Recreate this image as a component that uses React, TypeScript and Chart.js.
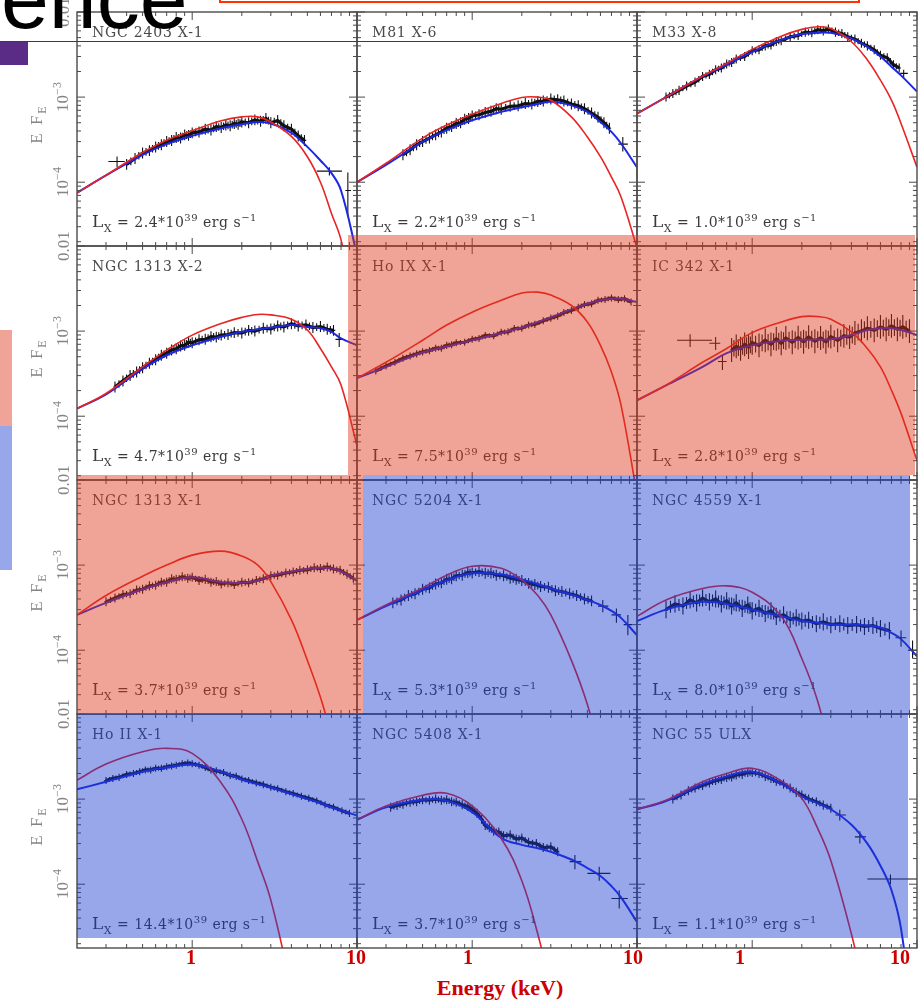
import React, { useEffect, useRef } from "react";
import { Chart, registerables } from "chart.js";

Chart.register(...registerables);

// ---------- axes ----------
const xMin = 0.2;
const xMax = 10;
const yMin = 1.78e-5;
const yMax = 0.01;
const xMajorTicks = [1, 10];
const xMinorTicks = [0.3, 0.4, 0.5, 0.6, 0.7, 0.8, 0.9, 2, 3, 4, 5, 6, 7, 8, 9];
const yMajorTicks = [1e-2, 1e-3, 1e-4];
const yMinorTicks = [
  2e-3, 3e-3, 4e-3, 5e-3, 6e-3, 7e-3, 8e-3, 9e-3,
  2e-4, 3e-4, 4e-4, 5e-4, 6e-4, 7e-4, 8e-4, 9e-4,
  2e-5, 3e-5, 4e-5, 5e-5, 6e-5, 7e-5, 8e-5, 9e-5,
];
const yTickValues = [1e-2, 1e-3, 1e-4];
const yTickLabels: [string, string][] = [["0.01", ""], ["10", "−3"], ["10", "−4"]];
const xTickLabels = ["1", "10", "1", "10", "1", "10"];

// ---------- model energy grid (keV) ----------
const modelE = [0.2, 0.3, 0.5, 0.7, 1, 1.5, 2, 2.5, 3, 4, 5, 6, 7, 8, 10];

// ---------- panel meta ----------
const panelNames = [
  "NGC 2403 X-1", "M81 X-6", "M33 X-8",
  "NGC 1313 X-2", "Ho IX X-1", "IC 342 X-1",
  "NGC 1313 X-1", "NGC 5204 X-1", "NGC 4559 X-1",
  "Ho II X-1", "NGC 5408 X-1", "NGC 55 ULX",
];
const panelLx = ["2.4", "2.2", "1.0", "4.7", "7.5", "2.8", "3.7", "5.3", "8.0", "14.4", "3.7", "1.1"];
const panelErr = [0.16, 0.16, 0.13, 0.16, 0.1, 0.38, 0.13, 0.16, 0.26, 0.1, 0.13, 0.13];

// ---------- model curves (E F_E) ----------
const red1 = [7.5e-5, 1.21e-4, 2.23e-4, 3.12e-4, 4.02e-4, 5.26e-4, 5.86e-4, 5.86e-4, 5.1e-4, 3.45e-4, 1.99e-4, 1.0e-4, 4.3e-5, 2.1e-5, 3e-6];
const blue1 = [7.5e-5, 1.2e-4, 2.1e-4, 2.8e-4, 3.5e-4, 4.3e-4, 4.8e-4, 5.1e-4, 4.9e-4, 3.8e-4, 2.6e-4, 1.8e-4, 1.28e-4, 8.0e-5, 1.4e-5];
const red2 = [1.0e-4, 1.67e-4, 3.3e-4, 4.69e-4, 6.3e-4, 8.4e-4, 9.9e-4, 1.0e-3, 9.2e-4, 5.86e-4, 3.4e-4, 2.0e-4, 1.15e-4, 6.7e-5, 1.7e-5];
const blue2 = [1.0e-4, 1.6e-4, 2.98e-4, 4.1e-4, 5.35e-4, 6.7e-4, 7.6e-4, 8.3e-4, 8.8e-4, 8.0e-4, 6.7e-4, 5.1e-4, 3.9e-4, 2.85e-4, 1.5e-4];
const red3 = [6.4e-4, 1.0e-3, 1.77e-3, 2.49e-3, 3.64e-3, 5.2e-3, 6.25e-3, 6.7e-3, 6.4e-3, 4.47e-3, 2.73e-3, 1.58e-3, 9.2e-4, 4.9e-4, 1.5e-4];
const blue3 = [6.4e-4, 1.0e-3, 1.75e-3, 2.4e-3, 3.4e-3, 4.7e-3, 5.5e-3, 5.7e-3, 5.7e-3, 4.9e-3, 3.9e-3, 3.0e-3, 2.28e-3, 1.8e-3, 1.16e-3];
const red4 = [1.23e-4, 1.85e-4, 3.8e-4, 5.97e-4, 8.97e-4, 1.23e-3, 1.45e-3, 1.57e-3, 1.55e-3, 1.38e-3, 1.03e-3, 6.25e-4, 3.8e-4, 2.32e-4, 4.5e-5];
const blue4 = [1.23e-4, 1.8e-4, 3.6e-4, 5.2e-4, 6.8e-4, 8.6e-4, 9.8e-4, 1.05e-3, 1.1e-3, 1.18e-3, 1.12e-3, 1.08e-3, 9.8e-4, 8.2e-4, 6.8e-4];
const red5 = [2.8e-4, 4.3e-4, 7.8e-4, 1.18e-3, 1.67e-3, 2.3e-3, 2.8e-3, 2.87e-3, 2.65e-3, 2.0e-3, 1.28e-3, 6.8e-4, 3.3e-4, 1.35e-4, 1.2e-5];
const blue5 = [2.8e-4, 3.8e-4, 5.6e-4, 6.6e-4, 7.8e-4, 9.5e-4, 1.1e-3, 1.28e-3, 1.45e-3, 1.8e-3, 2.1e-3, 2.3e-3, 2.4e-3, 2.4e-3, 2.2e-3];
const red6 = [1.54e-4, 2.32e-4, 4.3e-4, 6.25e-4, 9.6e-4, 1.28e-3, 1.48e-3, 1.48e-3, 1.38e-3, 9.8e-4, 6.25e-4, 3.8e-4, 2.02e-4, 1.08e-4, 3.0e-5];
const blue6 = [1.54e-4, 2.3e-4, 3.8e-4, 5.5e-4, 6.8e-4, 7.7e-4, 7.9e-4, 7.95e-4, 8.0e-4, 9.0e-4, 1.03e-3, 1.08e-3, 1.08e-3, 1.03e-3, 9.0e-4];
const red7 = [2.6e-4, 4.4e-4, 7.4e-4, 1.0e-3, 1.31e-3, 1.46e-3, 1.28e-3, 1.0e-3, 6.4e-4, 2.27e-4, 7.6e-5, 2.8e-5, 1.0e-5, null, null];
const blue7 = [2.6e-4, 3.6e-4, 5.2e-4, 6.3e-4, 7.2e-4, 6.3e-4, 6.2e-4, 6.6e-4, 7.5e-4, 8.4e-4, 9.0e-4, 9.3e-4, 9.2e-4, 8.5e-4, 6.5e-4];
const red8 = [2.27e-4, 3.4e-4, 5.4e-4, 7.6e-4, 9.7e-4, 9.2e-4, 6.7e-4, 4.4e-4, 2.6e-4, 7.6e-5, 2.3e-5, 6e-6, null, null, null];
const blue8 = [2.27e-4, 3.3e-4, 5.1e-4, 6.6e-4, 8.0e-4, 7.8e-4, 6.8e-4, 6.0e-4, 5.3e-4, 4.5e-4, 3.9e-4, 3.4e-4, 2.9e-4, 2.4e-4, 1.5e-4];
const red9 = [2.5e-4, 3.9e-4, 5.3e-4, 5.7e-4, 4.8e-4, 2.5e-4, 8e-5, 2.5e-5, 6e-6, null, null, null, null, null, null];
const blue9 = [2.2e-4, 3.0e-4, 3.7e-4, 3.5e-4, 3.0e-4, 2.5e-4, 2.2e-4, 2.1e-4, 2.0e-4, 2.0e-4, 1.95e-4, 1.85e-4, 1.6e-4, 1.35e-4, 8.5e-5];
const red10 = [1.67e-3, 2.58e-3, 3.6e-3, 3.95e-3, 3.45e-3, 1.55e-3, 5.8e-4, 1.83e-4, 6.5e-5, 6e-6, null, null, null, null, null];
const blue10 = [1.3e-3, 1.6e-3, 2.1e-3, 2.35e-3, 2.55e-3, 2.1e-3, 1.7e-3, 1.5e-3, 1.37e-3, 1.15e-3, 1.0e-3, 9.0e-4, 8.0e-4, 7.4e-4, 6.4e-4];
const red11 = [5.7e-4, 8.3e-4, 1.11e-3, 1.17e-3, 8.3e-4, 3.45e-4, 1.1e-4, 2.6e-5, 6e-6, null, null, null, null, null, null];
const blue11 = [5.7e-4, 8.0e-4, 9.8e-4, 9.6e-4, 7.0e-4, 3.5e-4, 2.9e-4, 2.65e-4, 2.4e-4, 1.95e-4, 1.55e-4, 1.25e-4, 9.5e-5, 7.0e-5, 3.6e-5];
const red12 = [7.6e-4, 9.7e-4, 1.6e-3, 2.0e-3, 2.3e-3, 1.64e-3, 1.02e-3, 4.5e-4, 1.9e-4, 2.6e-5, 4e-6, null, null, null, null];
const blue12 = [7.6e-4, 9.5e-4, 1.5e-3, 1.85e-3, 2.1e-3, 1.52e-3, 1.08e-3, 8.9e-4, 7.6e-4, 5.0e-4, 3.0e-4, 1.65e-4, 8.5e-5, 3.0e-5, 1e-6];

// ---------- observed spectra [E, EF_E] ----------
const data1 = [[0.4,1.62e-4],[0.45,1.9e-4],[0.5,2.2e-4],[0.55,2.35e-4],[0.6,2.6e-4],[0.65,2.75e-4],[0.7,3.0e-4],[0.75,3.1e-4],[0.8,3.35e-4],[0.85,3.3e-4],[0.9,3.6e-4],[0.95,3.55e-4],[1.0,3.8e-4],[1.1,3.9e-4],[1.2,4.2e-4],[1.3,4.1e-4],[1.4,4.5e-4],[1.5,4.4e-4],[1.6,4.7e-4],[1.7,4.6e-4],[1.8,4.9e-4],[1.9,4.8e-4],[2.0,5.1e-4],[2.2,5.0e-4],[2.4,5.4e-4],[2.6,5.2e-4],[2.8,5.6e-4],[3.0,5.0e-4],[3.3,5.3e-4],[3.6,4.6e-4],[4.0,4.2e-4],[4.4,3.5e-4],[4.8,3.1e-4]];
const data2 = [[0.38,2.1e-4],[0.42,2.4e-4],[0.46,2.75e-4],[0.5,3.0e-4],[0.55,3.3e-4],[0.6,3.6e-4],[0.65,3.9e-4],[0.7,4.3e-4],[0.75,4.5e-4],[0.8,4.9e-4],[0.85,5.0e-4],[0.9,5.5e-4],[0.95,5.6e-4],[1.0,6.0e-4],[1.1,6.2e-4],[1.2,6.6e-4],[1.3,6.8e-4],[1.4,7.3e-4],[1.5,7.2e-4],[1.7,7.8e-4],[1.9,7.9e-4],[2.1,8.4e-4],[2.3,8.3e-4],[2.5,8.9e-4],[2.7,9.0e-4],[3.0,9.5e-4],[3.3,9.3e-4],[3.6,9.0e-4],[4.0,8.3e-4],[4.4,7.9e-4],[4.8,7.3e-4],[5.3,6.5e-4],[5.8,5.8e-4],[6.3,5.0e-4],[6.8,4.3e-4]];
const data3 = [[0.3,1.0e-3],[0.33,1.1e-3],[0.36,1.2e-3],[0.4,1.35e-3],[0.45,1.5e-3],[0.5,1.75e-3],[0.55,1.85e-3],[0.6,2.1e-3],[0.65,2.2e-3],[0.7,2.45e-3],[0.75,2.55e-3],[0.8,2.8e-3],[0.9,3.0e-3],[1.0,3.5e-3],[1.1,3.6e-3],[1.2,4.0e-3],[1.3,4.1e-3],[1.4,4.5e-3],[1.5,4.6e-3],[1.7,5.1e-3],[1.9,5.3e-3],[2.1,5.8e-3],[2.3,5.7e-3],[2.5,6.2e-3],[2.7,6.0e-3],[2.9,6.3e-3],[3.2,5.8e-3],[3.5,5.6e-3],[3.8,5.1e-3],[4.2,4.8e-3],[4.6,4.3e-3],[5.0,4.0e-3],[5.5,3.6e-3],[6.0,3.1e-3],[6.6,2.9e-3],[7.2,2.4e-3],[7.8,2.2e-3]];
const data4 = [[0.34,2.2e-4],[0.38,2.6e-4],[0.42,3.0e-4],[0.46,3.3e-4],[0.5,3.7e-4],[0.55,4.2e-4],[0.6,4.6e-4],[0.65,5.2e-4],[0.7,5.5e-4],[0.75,6.0e-4],[0.8,6.2e-4],[0.85,6.7e-4],[0.9,6.8e-4],[0.95,7.4e-4],[1.0,7.3e-4],[1.1,7.9e-4],[1.2,8.0e-4],[1.3,8.6e-4],[1.4,8.5e-4],[1.5,9.0e-4],[1.65,9.1e-4],[1.8,9.6e-4],[2.0,9.5e-4],[2.2,1.02e-3],[2.4,1.0e-3],[2.7,1.08e-3],[3.0,1.06e-3],[3.3,1.15e-3],[3.6,1.12e-3],[4.0,1.22e-3],[4.4,1.15e-3],[4.9,1.18e-3],[5.4,1.1e-3],[6.0,1.13e-3],[6.6,1.05e-3],[7.2,1.02e-3]];
const data5 = [[0.26,3.4e-4],[0.3,3.9e-4],[0.34,4.3e-4],[0.38,4.8e-4],[0.42,5.1e-4],[0.46,5.4e-4],[0.5,5.7e-4],[0.55,5.9e-4],[0.6,6.3e-4],[0.65,6.3e-4],[0.7,6.8e-4],[0.75,6.9e-4],[0.8,7.3e-4],[0.9,7.4e-4],[1.0,8.0e-4],[1.1,8.2e-4],[1.2,8.9e-4],[1.35,8.8e-4],[1.5,9.7e-4],[1.65,9.8e-4],[1.8,1.07e-3],[2.0,1.08e-3],[2.2,1.18e-3],[2.4,1.2e-3],[2.7,1.32e-3],[3.0,1.42e-3],[3.3,1.5e-3],[3.6,1.65e-3],[4.0,1.75e-3],[4.4,1.9e-3],[4.8,2.05e-3],[5.3,2.1e-3],[5.8,2.3e-3],[6.4,2.35e-3],[7.0,2.45e-3],[7.7,2.35e-3],[8.4,2.4e-3],[9.2,2.2e-3]];
const data6 = [[0.75,6.0e-4],[0.8,6.6e-4],[0.85,6.2e-4],[0.9,7.0e-4],[0.95,6.5e-4],[1.0,7.3e-4],[1.1,6.8e-4],[1.2,7.8e-4],[1.3,7.0e-4],[1.4,8.1e-4],[1.5,7.2e-4],[1.6,8.3e-4],[1.75,7.4e-4],[1.9,8.4e-4],[2.05,7.5e-4],[2.2,8.5e-4],[2.4,7.6e-4],[2.6,8.3e-4],[2.8,7.5e-4],[3.0,8.6e-4],[3.3,7.8e-4],[3.6,8.8e-4],[3.9,8.5e-4],[4.2,9.5e-4],[4.6,1.0e-3],[5.0,1.08e-3],[5.5,1.02e-3],[6.0,1.12e-3],[6.5,1.05e-3],[7.0,1.15e-3],[7.6,1.05e-3],[8.2,1.12e-3],[9.0,1.0e-3]];
const data7 = [[0.3,3.7e-4],[0.34,4.1e-4],[0.38,4.5e-4],[0.42,4.6e-4],[0.46,5.1e-4],[0.5,5.2e-4],[0.55,5.7e-4],[0.6,5.8e-4],[0.65,6.3e-4],[0.7,6.3e-4],[0.75,6.9e-4],[0.8,6.8e-4],[0.87,7.3e-4],[0.94,7.0e-4],[1.0,7.2e-4],[1.1,6.6e-4],[1.2,6.8e-4],[1.3,6.3e-4],[1.4,6.4e-4],[1.5,6.0e-4],[1.65,6.2e-4],[1.8,5.9e-4],[2.0,6.3e-4],[2.2,6.2e-4],[2.45,6.6e-4],[2.7,6.9e-4],[3.0,7.5e-4],[3.3,7.6e-4],[3.7,8.1e-4],[4.1,8.3e-4],[4.5,8.7e-4],[5.0,8.8e-4],[5.5,9.3e-4],[6.0,9.1e-4],[6.6,9.5e-4],[7.2,9.0e-4],[7.9,8.7e-4],[8.7,7.8e-4],[9.5,7.0e-4]];
const data8 = [[0.33,3.6e-4],[0.37,3.9e-4],[0.41,4.4e-4],[0.45,4.6e-4],[0.5,5.2e-4],[0.55,5.4e-4],[0.6,6.0e-4],[0.65,6.2e-4],[0.7,6.8e-4],[0.75,6.9e-4],[0.8,7.5e-4],[0.87,7.6e-4],[0.94,8.2e-4],[1.0,8.1e-4],[1.1,8.4e-4],[1.2,8.0e-4],[1.3,8.1e-4],[1.4,7.6e-4],[1.55,7.5e-4],[1.7,7.0e-4],[1.85,6.8e-4],[2.0,6.6e-4],[2.2,6.1e-4],[2.4,5.9e-4],[2.6,5.6e-4],[2.9,5.5e-4],[3.2,5.0e-4],[3.5,4.9e-4],[3.9,4.6e-4],[4.3,4.4e-4],[4.8,4.0e-4],[5.3,3.8e-4]];
const data9 = [[0.3,3.0e-4],[0.34,3.5e-4],[0.38,3.3e-4],[0.42,3.9e-4],[0.46,3.6e-4],[0.5,4.1e-4],[0.55,3.7e-4],[0.6,4.0e-4],[0.65,3.5e-4],[0.7,3.8e-4],[0.75,3.3e-4],[0.8,3.6e-4],[0.87,3.1e-4],[0.94,3.4e-4],[1.0,2.9e-4],[1.1,3.1e-4],[1.2,2.7e-4],[1.3,2.9e-4],[1.4,2.5e-4],[1.55,2.6e-4],[1.7,2.3e-4],[1.85,2.4e-4],[2.0,2.2e-4],[2.2,2.25e-4],[2.45,2.05e-4],[2.7,2.15e-4],[3.0,2.0e-4],[3.4,2.05e-4],[3.8,1.95e-4],[4.3,2.0e-4],[4.8,1.9e-4],[5.4,1.95e-4],[6.0,1.8e-4],[6.8,1.7e-4]];
const data10 = [[0.3,1.65e-3],[0.33,1.75e-3],[0.36,1.8e-3],[0.4,1.95e-3],[0.44,2.0e-3],[0.48,2.1e-3],[0.52,2.2e-3],[0.56,2.2e-3],[0.6,2.3e-3],[0.65,2.3e-3],[0.7,2.4e-3],[0.75,2.45e-3],[0.8,2.5e-3],[0.87,2.6e-3],[0.94,2.65e-3],[1.0,2.6e-3],[1.1,2.5e-3],[1.2,2.35e-3],[1.3,2.2e-3],[1.4,2.15e-3],[1.55,2.05e-3],[1.7,1.9e-3],[1.85,1.85e-3],[2.0,1.72e-3],[2.2,1.65e-3],[2.45,1.55e-3],[2.7,1.48e-3],[3.0,1.38e-3],[3.3,1.32e-3],[3.7,1.22e-3],[4.1,1.16e-3],[4.6,1.08e-3],[5.1,1.02e-3],[5.7,9.5e-4],[6.4,8.6e-4],[7.2,8.0e-4],[8.1,7.3e-4],[9.0,6.8e-4]];
const data11 = [[0.32,8.0e-4],[0.35,8.4e-4],[0.38,8.7e-4],[0.42,9.2e-4],[0.46,9.3e-4],[0.5,9.8e-4],[0.55,9.7e-4],[0.6,1.0e-3],[0.65,9.7e-4],[0.7,9.8e-4],[0.75,9.3e-4],[0.8,9.2e-4],[0.87,8.6e-4],[0.94,8.2e-4],[1.0,7.6e-4],[1.07,6.8e-4],[1.14,5.8e-4],[1.2,4.9e-4],[1.27,4.6e-4],[1.35,4.2e-4],[1.45,4.1e-4],[1.55,3.7e-4],[1.7,3.8e-4],[1.85,3.4e-4],[2.0,3.5e-4],[2.2,3.1e-4],[2.45,3.0e-4],[2.7,2.7e-4],[3.0,2.75e-4],[3.3,2.4e-4]];
const data12 = [[0.33,1.0e-3],[0.37,1.12e-3],[0.41,1.25e-3],[0.45,1.35e-3],[0.5,1.45e-3],[0.55,1.55e-3],[0.6,1.65e-3],[0.65,1.7e-3],[0.7,1.8e-3],[0.75,1.82e-3],[0.8,1.92e-3],[0.87,1.95e-3],[0.94,2.05e-3],[1.0,2.05e-3],[1.1,2.0e-3],[1.2,1.85e-3],[1.3,1.75e-3],[1.4,1.62e-3],[1.55,1.5e-3],[1.7,1.35e-3],[1.85,1.2e-3],[2.0,1.12e-3],[2.2,1.0e-3],[2.45,9.3e-4],[2.7,8.5e-4],[3.0,7.8e-4]];

// wide-binned points: [E, F, Elo, Ehi, Flo, Fhi]
const wide1 = [[0.35,1.75e-4,0.31,0.39,1.5e-4,2.0e-4],[6.8,1.35e-4,5.7,8.1,1.2e-4,1.5e-4],[8.8,8e-5,8.5,9.2,4e-5,1.3e-4]];
const wide2 = [[8.2,2.8e-4,7.7,8.8,2.3e-4,3.4e-4]];
const wide3 = [[8.3,1.9e-3,7.9,8.8,1.7e-3,2.1e-3]];
const wide4 = [[7.8,8.0e-4,7.4,8.2,6.5e-4,9.5e-4]];
const wide5: number[][] = [];
const wide6 = [[0.42,7.8e-4,0.35,0.57,6.5e-4,9.2e-4],[0.6,7.2e-4,0.55,0.64,6.0e-4,8.5e-4],[0.66,4.4e-4,0.62,0.7,3.5e-4,5.2e-4]];
const wide7: number[][] = [];
const wide8 = [[6.2,3.3e-4,5.8,6.7,2.8e-4,3.9e-4],[7.5,2.6e-4,7.0,8.0,2.1e-4,3.1e-4],[8.8,2.0e-4,8.3,9.4,1.5e-4,2.6e-4]];
const wide9 = [[8.0,1.4e-4,7.4,8.6,1.1e-4,1.7e-4],[9.4,1.0e-4,8.8,10,8e-5,1.3e-4]];
const wide10: number[][] = [];
const wide11 = [[4.2,1.84e-4,3.9,4.6,1.5e-4,2.2e-4],[5.9,1.34e-4,5.0,6.9,1.1e-4,1.6e-4],[7.8,6.8e-5,7.0,8.8,5.2e-5,8.5e-5]];
const wide12 = [[3.4,6.5e-4,3.2,3.7,5.6e-4,7.5e-4],[4.5,3.6e-4,4.2,4.9,3.0e-4,4.2e-4],[6.9,1.15e-4,5.0,10,1.0e-4,1.3e-4]];

const redCurves = [red1, red2, red3, red4, red5, red6, red7, red8, red9, red10, red11, red12];
const blueCurves = [blue1, blue2, blue3, blue4, blue5, blue6, blue7, blue8, blue9, blue10, blue11, blue12];
const dataSets = [data1, data2, data3, data4, data5, data6, data7, data8, data9, data10, data11, data12];
const wideSets = [wide1, wide2, wide3, wide4, wide5, wide6, wide7, wide8, wide9, wide10, wide11, wide12];

// ---------- layout ----------
const COL_LEFT = [77, 357, 637];
const ROW_TOP = [12, 246, 480, 714];
const PW = 280;
const PH = 234;
const PAD = 6;
const RED = "rgb(232,36,36)";
const BLUE = "rgb(28,40,228)";
const FRAME = "#4a4a4a";

const framePlugin = {
  id: "frameTicks",
  afterDraw(chart: any) {
    const { ctx, chartArea: a, scales } = chart;
    const xs = scales.x;
    const ys = scales.y;
    ctx.save();
    ctx.strokeStyle = FRAME;
    ctx.lineWidth = 1.4;
    ctx.strokeRect(a.left, a.top, a.right - a.left, a.bottom - a.top);
    ctx.lineWidth = 1;
    ctx.beginPath();
    const xt = (vals: number[], len: number) => {
      for (const v of vals) {
        const px = xs.getPixelForValue(v);
        if (px < a.left - 0.5 || px > a.right + 0.5) continue;
        ctx.moveTo(px, a.top);
        ctx.lineTo(px, a.top + len);
        ctx.moveTo(px, a.bottom);
        ctx.lineTo(px, a.bottom - len);
      }
    };
    const yt = (vals: number[], len: number) => {
      for (const v of vals) {
        const py = ys.getPixelForValue(v);
        if (py < a.top - 0.5 || py > a.bottom + 0.5) continue;
        ctx.moveTo(a.left, py);
        ctx.lineTo(a.left + len, py);
        ctx.moveTo(a.right, py);
        ctx.lineTo(a.right - len, py);
      }
    };
    xt(xMajorTicks, 8);
    xt(xMinorTicks, 4);
    yt(yMajorTicks, 8);
    yt(yMinorTicks, 4);
    ctx.stroke();
    ctx.restore();
  },
};

function makeErrPlugin(i: number) {
  return {
    id: "errorBars",
    beforeDatasetsDraw(chart: any) {
      const { ctx, chartArea: a, scales } = chart;
      const xs = scales.x;
      const ys = scales.y;
      const e = panelErr[i];
      ctx.save();
      ctx.beginPath();
      ctx.rect(a.left, a.top, a.right - a.left, a.bottom - a.top);
      ctx.clip();
      ctx.strokeStyle = "#111";
      ctx.lineWidth = 1.5;
      ctx.beginPath();
      const pts = dataSets[i];
      for (let k = 0; k < pts.length; k++) {
        const [x, y] = pts[k];
        const px = xs.getPixelForValue(x);
        const py1 = ys.getPixelForValue(y * (1 + e));
        const py2 = ys.getPixelForValue(y / (1 + e));
        ctx.moveTo(px, py1);
        ctx.lineTo(px, py2);
        // half-way bars between neighbouring bins
        if (k + 1 < pts.length) {
          const [x2, y2] = pts[k + 1];
          const mx = (xs.getPixelForValue(x) + xs.getPixelForValue(x2)) / 2;
          const my = ys.getPixelForValue(Math.sqrt(y * y2));
          ctx.moveTo(mx, my - (py2 - py1) * 0.35);
          ctx.lineTo(mx, my + (py2 - py1) * 0.35);
        }
        const py = ys.getPixelForValue(y);
        ctx.moveTo(xs.getPixelForValue(x * 0.975), py);
        ctx.lineTo(xs.getPixelForValue(x * 1.025), py);
      }
      ctx.lineWidth = 1.1;
      for (const w of wideSets[i]) {
        const [x, y, xl, xh, yl, yh] = w;
        const px = xs.getPixelForValue(x);
        const py = ys.getPixelForValue(y);
        ctx.moveTo(xs.getPixelForValue(xl), py);
        ctx.lineTo(xs.getPixelForValue(xh), py);
        ctx.moveTo(px, ys.getPixelForValue(yl));
        ctx.lineTo(px, ys.getPixelForValue(yh));
      }
      ctx.stroke();
      ctx.restore();
    },
  };
}

function Panel({ i }: { i: number }) {
  const ref = useRef<HTMLCanvasElement>(null);
  const col = i % 3;
  const row = Math.floor(i / 3);
  useEffect(() => {
    const toPts = (arr: (number | null)[]) =>
      modelE.map((x, k) => ({ x, y: arr[k] })).filter((p) => p.y !== null) as { x: number; y: number }[];
    const chart = new Chart(ref.current as HTMLCanvasElement, {
      type: "scatter",
      data: {
        datasets: [
          { label: "diskbb", data: toPts(redCurves[i]), showLine: true, borderColor: RED, borderWidth: 1.6, pointRadius: 0, tension: 0.4 },
          { label: "model", data: toPts(blueCurves[i]), showLine: true, borderColor: BLUE, borderWidth: 2, pointRadius: 0, tension: 0.4 },
          { label: "data", data: dataSets[i].map(([x, y]) => ({ x, y })), showLine: true, borderColor: "#111", borderWidth: 3.2, pointRadius: 0, tension: 0 },
        ],
      } as any,
      options: {
        animation: false,
        responsive: false,
        events: [],
        layout: { padding: PAD },
        plugins: { legend: { display: false }, tooltip: { enabled: false } },
        scales: {
          x: { type: "logarithmic", min: xMin, max: xMax, display: false },
          y: { type: "logarithmic", min: yMin, max: yMax, display: false },
        },
      } as any,
      plugins: [makeErrPlugin(i), framePlugin],
    });
    return () => chart.destroy();
  }, [i]);
  return (
    <canvas
      ref={ref}
      width={PW + 2 * PAD}
      height={PH + 2 * PAD}
      style={{ position: "absolute", left: COL_LEFT[col] - PAD, top: ROW_TOP[row] - PAD, width: PW + 2 * PAD, height: PH + 2 * PAD }}
    />
  );
}

const yPix = (v: number) => ((Math.log10(yMax) - Math.log10(v)) / (Math.log10(yMax) - Math.log10(yMin))) * PH;
const xLabelX = [191, 356, 468, 633, 740, 900];

const panelFont = '14px "DejaVu Serif", serif';
const labelGray = "#858585";

export default function App() {
  const idx = Array.from({ length: 12 }, (_, k) => k);
  return (
    <div style={{ position: "absolute", left: 0, top: 0, width: 918, height: 1000, overflow: "hidden", background: "#fff" }}>
      {idx.map((i) => (
        <Panel key={i} i={i} />
      ))}
      {idx.map((i) => {
        const L = COL_LEFT[i % 3];
        const T = ROW_TOP[Math.floor(i / 3)];
        return (
          <React.Fragment key={"t" + i}>
            <div style={{ position: "absolute", left: L + 15, top: T + 13, font: panelFont, lineHeight: "14px", letterSpacing: 0.8, color: "#4a4a4a", whiteSpace: "nowrap" }}>
              {panelNames[i]}
            </div>
            <div style={{ position: "absolute", left: L + 15, top: T + 202, font: panelFont, lineHeight: "14px", letterSpacing: 0.5, color: "#3a3a3a", whiteSpace: "nowrap" }}>
              <span style={{ fontSize: 17 }}>L</span>
              <span style={{ fontSize: 11, position: "relative", top: 5 }}>X</span>
              {" = " + panelLx[i] + "*10"}
              <span style={{ fontSize: 10, position: "relative", top: -6 }}>39</span>
              {" erg s"}
              <span style={{ fontSize: 10, position: "relative", top: -6 }}>−1</span>
            </div>
          </React.Fragment>
        );
      })}
      {ROW_TOP.map((T, r) => (
        <React.Fragment key={"y" + r}>
          {yTickValues.map((v, k) => (
            <div
              key={k}
              style={{
                position: "absolute",
                left: 63,
                top: T + yPix(v),
                transform: "translate(-50%,-50%) rotate(-90deg)",
                font: '17px "Liberation Serif", serif',
                color: labelGray,
                whiteSpace: "nowrap",
                lineHeight: "17px",
              }}
            >
              {yTickLabels[k][0]}
              {yTickLabels[k][1] && <span style={{ fontSize: 12, position: "relative", top: -7 }}>{yTickLabels[k][1]}</span>}
            </div>
          ))}
          <div
            style={{
              position: "absolute",
              left: 37,
              top: T + 112,
              transform: "translate(-50%,-50%) rotate(-90deg)",
              font: '17px "Liberation Serif", serif',
              color: labelGray,
              whiteSpace: "nowrap",
              lineHeight: "17px",
              letterSpacing: 2,
            }}
          >
            E F<span style={{ fontSize: 12, position: "relative", top: 4 }}>E</span>
          </div>
        </React.Fragment>
      ))}
      {xTickLabels.map((t, k) => (
        <div
          key={"x" + k}
          style={{ position: "absolute", left: xLabelX[k], top: 957, transform: "translate(-50%,-50%)", font: 'bold 20px "Liberation Serif", serif', color: "#CC0000", lineHeight: "20px" }}
        >
          {t}
        </div>
      ))}
      <div style={{ position: "absolute", left: 500, top: 988, transform: "translate(-50%,-50%)", font: 'bold 22px "Liberation Serif", serif', color: "#CC0000", whiteSpace: "nowrap", lineHeight: "22px" }}>
        Energy (keV)
      </div>

      {/* slide highlight overlays */}
      <div style={{ position: "absolute", left: 348, top: 235, width: 567, height: 240, background: "rgba(220,53,24,0.45)" }} />
      <div style={{ position: "absolute", left: 77, top: 475, width: 286, height: 239, background: "rgba(220,53,24,0.45)" }} />
      <div style={{ position: "absolute", left: 363, top: 475, width: 547, height: 239, background: "rgba(26,57,208,0.45)" }} />
      <div style={{ position: "absolute", left: 77, top: 714, width: 831, height: 224, background: "rgba(26,57,208,0.45)" }} />
      <div style={{ position: "absolute", left: 0, top: 330, width: 12, height: 96, background: "rgb(239,164,151)" }} />
      <div style={{ position: "absolute", left: 0, top: 426, width: 12, height: 144, background: "rgb(152,166,234)" }} />

      {/* slide chrome */}
      <div style={{ position: "absolute", left: 0, top: 41, width: 850, height: 1.2, background: "#4F2683" }} />
      <div style={{ position: "absolute", left: 0, top: 42, width: 28, height: 23, background: "#5B2C86" }} />
      <div style={{ position: "absolute", left: 219, top: -40, width: 641, height: 43, boxSizing: "border-box", border: "2px solid #FF3300" }} />
      <div style={{ position: "absolute", left: 1, top: -45, font: '86px "Liberation Sans", Arial, sans-serif', lineHeight: "86px", color: "#000", whiteSpace: "nowrap" }}>
        ence
      </div>
    </div>
  );
}
